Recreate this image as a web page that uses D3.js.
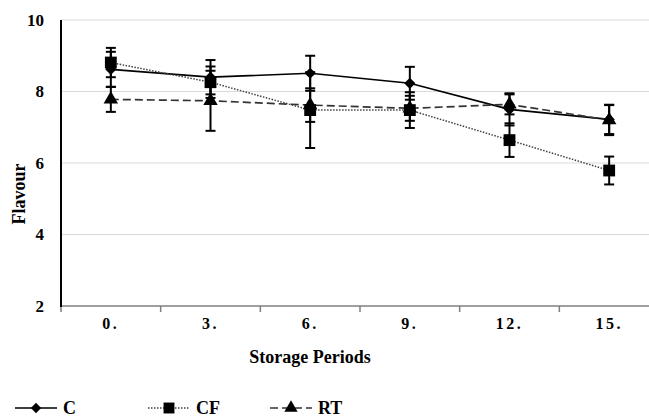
<!DOCTYPE html>
<html><head><meta charset="utf-8">
<script src="https://cdn.jsdelivr.net/npm/d3@7"></script>
<style>
html,body{margin:0;padding:0;background:#fff;}
svg{display:block;font-family:"Liberation Serif","Times New Roman",serif;}
</style></head>
<body>
<svg id="chart" width="649" height="418"></svg>
<script>
const categories = ["0.", "3.", "6.", "9.", "12.", "15."];
const seriesNames = ["C", "CF", "RT"];
const valuesC  = [8.62, 8.40, 8.51, 8.23, 7.50, 7.22];
const errorsC  = [0.49, 0.48, 0.49, 0.46, 0.45, 0.41];
const valuesCF = [8.81, 8.26, 7.48, 7.48, 6.64, 5.79];
const errorsCF = [0.41, 0.44, 1.06, 0.50, 0.47, 0.39];
const valuesRT = [7.78, 7.74, 7.62, 7.53, 7.64, 7.20];
const errorsRT = [0.35, 0.84, 0.47, 0.35, 0.28, 0.42];
const yTicks = [2, 4, 6, 8, 10];
const yTitle = "Flavour";
const xTitle = "Storage Periods";

const svg = d3.select("#chart");
const pLeft = 61, pRight = 659, pTop = 20, pBottom = 306;

const x = d3.scaleBand().domain(categories).range([pLeft, pRight]).padding(0);
const y = d3.scaleLinear().domain([2, 10]).range([pBottom, pTop]);
const cx = c => x(c) + x.bandwidth() / 2;

// gridlines
svg.append("g").selectAll("line").data(yTicks.filter(t => t > 2)).join("line")
  .attr("x1", pLeft).attr("x2", 649)
  .attr("y1", d => y(d)).attr("y2", d => y(d))
  .attr("stroke", "#d9d9d9").attr("stroke-width", 1);

// y axis labels
const yAxis = svg.append("g").attr("transform", `translate(${pLeft},0)`)
  .call(d3.axisLeft(y).tickValues(yTicks).tickSize(0).tickPadding(17).tickFormat(d3.format("d")));
yAxis.select(".domain").remove();
yAxis.selectAll("text").attr("font-family", "Liberation Serif").attr("font-weight", "bold")
  .attr("font-size", 17).attr("fill", "#000");

// x axis line and ticks at band boundaries
svg.append("line").attr("x1", pLeft).attr("x2", pRight).attr("y1", pBottom).attr("y2", pBottom)
  .attr("stroke", "#7f7f7f").attr("stroke-width", 1.5);
svg.append("g").selectAll("line").data(categories).join("line")
  .attr("x1", d => x(d)).attr("x2", d => x(d))
  .attr("y1", pBottom).attr("y2", pBottom + 6)
  .attr("stroke", "#7f7f7f").attr("stroke-width", 1.5);

// y axis line
svg.append("line").attr("x1", pLeft).attr("x2", pLeft).attr("y1", pTop).attr("y2", pBottom + 1)
  .attr("stroke", "#000").attr("stroke-width", 2);

// x labels
const xAxis = svg.append("g").attr("transform", `translate(0,${pBottom})`)
  .call(d3.axisBottom(x).tickSize(0).tickPadding(12));
xAxis.select(".domain").remove();
xAxis.selectAll("text").attr("font-family", "Liberation Serif").attr("font-weight", "bold")
  .attr("font-size", 16).attr("letter-spacing", "2.5px").attr("fill", "#000");

// titles
svg.append("text").attr("x", 310).attr("y", 363).attr("text-anchor", "middle")
  .attr("font-weight", "bold").attr("font-size", 18).text(xTitle);
svg.append("text").attr("transform", "translate(25,194) rotate(-90)").attr("text-anchor", "middle")
  .attr("font-weight", "bold").attr("font-size", 18).text(yTitle);

const series = [
  {name: "C", values: valuesC, errors: errorsC, dash: null, color: "#000", width: 1.7, sym: d3.symbolDiamond2, size: 80},
  {name: "CF", values: valuesCF, errors: errorsCF, dash: "1.5,1.5", color: "#404040", width: 1.5, sym: d3.symbolSquare, size: 140},
  {name: "RT", values: valuesRT, errors: errorsRT, dash: "8,4", color: "#333", width: 1.7, sym: d3.symbolTriangle, size: 90}
];

const line = d3.line().x((d, i) => cx(categories[i])).y(d => y(d));

series.forEach(s => {
  svg.append("path").datum(s.values).attr("d", line)
    .attr("fill", "none").attr("stroke", s.color).attr("stroke-width", s.width)
    .attr("stroke-dasharray", s.dash);
});

series.forEach(s => {
  const g = svg.append("g");
  const pts = s.values.map((v, i) => ({c: categories[i], v, e: s.errors[i]}));
  g.selectAll(".eb").data(pts).join("line")
    .attr("x1", d => cx(d.c)).attr("x2", d => cx(d.c))
    .attr("y1", d => y(d.v + d.e)).attr("y2", d => y(d.v - d.e))
    .attr("stroke", "#000").attr("stroke-width", 2);
  ["+", "-"].forEach(sign => {
    g.selectAll(".cap" + (sign === "+" ? "p" : "m")).data(pts).join("line")
      .attr("class", "cap" + (sign === "+" ? "p" : "m"))
      .attr("x1", d => cx(d.c) - 5).attr("x2", d => cx(d.c) + 5)
      .attr("y1", d => y(sign === "+" ? d.v + d.e : d.v - d.e))
      .attr("y2", d => y(sign === "+" ? d.v + d.e : d.v - d.e))
      .attr("stroke", "#000").attr("stroke-width", 2);
  });
});

series.forEach(s => {
  svg.append("g").selectAll("path").data(s.values).join("path")
    .attr("transform", (d, i) => `translate(${cx(categories[i])},${y(d)})`)
    .attr("d", d3.symbol(s.sym, s.size)).attr("fill", "#000");
});

// legend
const legendX = [15, 148, 270];
const legY = 408;
series.forEach((s, i) => {
  const g = svg.append("g").attr("transform", `translate(${legendX[i]},${legY})`);
  g.append("line").attr("x1", 0).attr("x2", 42).attr("y1", 0).attr("y2", 0)
    .attr("stroke", s.color).attr("stroke-width", s.width).attr("stroke-dasharray", s.dash);
  g.append("path").attr("transform", "translate(21,0)")
    .attr("d", d3.symbol(s.sym, s.size * 0.85)).attr("fill", "#000");
  g.append("text").attr("x", 48).attr("y", 6).attr("font-weight", "bold").attr("font-size", 18)
    .text(s.name);
});
</script>
</body></html>
